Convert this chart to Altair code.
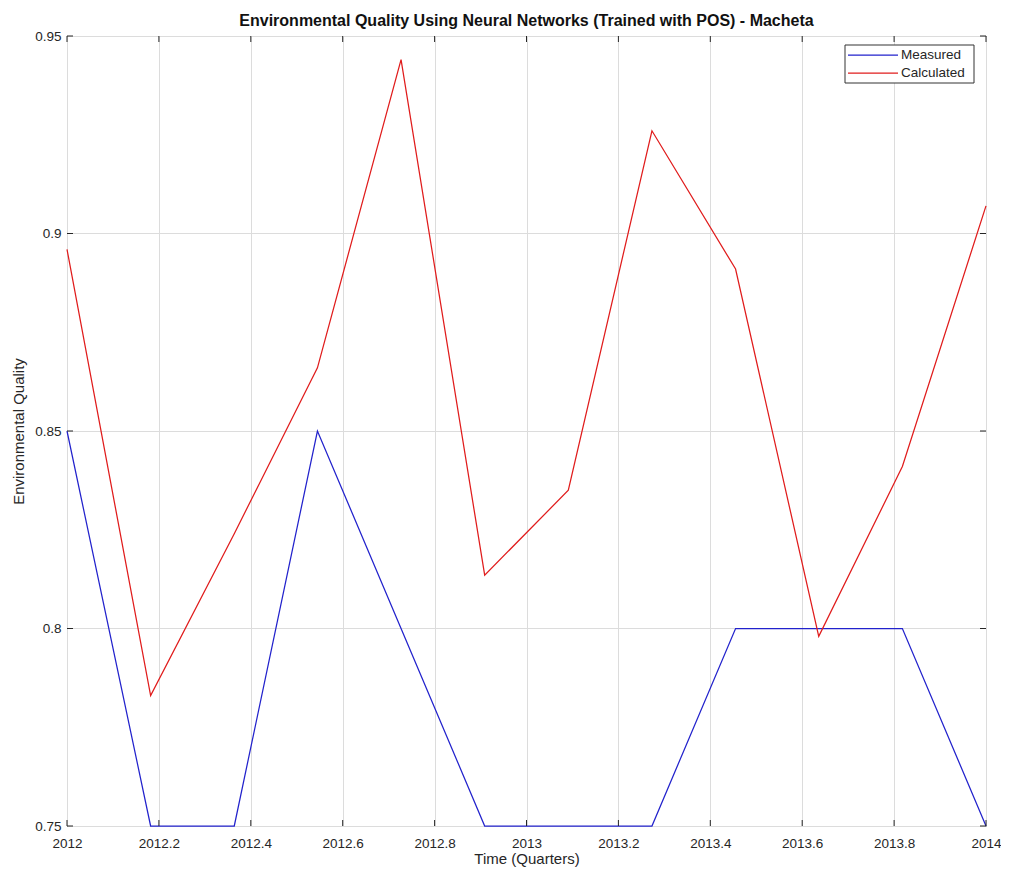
import altair as alt
import pandas as pd

quarters = [2012.000, 2012.182, 2012.364, 2012.545, 2012.727, 2012.909,
            2013.091, 2013.273, 2013.455, 2013.636, 2013.818, 2014.000]
measured = [0.85, 0.75, 0.75, 0.85, 0.80, 0.75, 0.75, 0.75, 0.80, 0.80, 0.80, 0.75]
calculated = [0.896, 0.783, 0.824, 0.866, 0.944, 0.8135, 0.835, 0.926, 0.891, 0.798, 0.841, 0.907]
series_names = ["Measured", "Calculated"]
series_colors = ["#2222cc", "#e01c1c"]
x_ticks = [2012, 2012.2, 2012.4, 2012.6, 2012.8, 2013, 2013.2, 2013.4, 2013.6, 2013.8, 2014]
y_ticks = [0.75, 0.8, 0.85, 0.9, 0.95]

W, H = 919, 790
FONT = "Liberation Sans"
TICK_FS = 13.5
TITLE_FS = 15

rows = []
for q, m in zip(quarters, measured):
    rows.append({"t": q, "v": m, "s": "Measured"})
for q, c in zip(quarters, calculated):
    rows.append({"t": q, "v": c, "s": "Calculated"})
df = pd.DataFrame(rows)
xt = pd.DataFrame({"t": x_ticks})
yt = pd.DataFrame({"v": y_ticks})
leg = pd.DataFrame({"s": series_names})

xs = alt.Scale(domain=[2012, 2014], nice=False, zero=False)
ys = alt.Scale(domain=[0.75, 0.95], nice=False, zero=False)
ss = alt.Scale(domain=series_names, range=series_colors)

lines = alt.Chart(df).mark_line(strokeWidth=1.25).encode(
    x=alt.X("t:Q", scale=xs, title="Time (Quarters)",
            axis=alt.Axis(values=x_ticks, format="~g", tickSize=0, domain=False,
                          labelPadding=10, titlePadding=2, grid=True,
                          gridColor="#dcdcdc", labelFontSize=TICK_FS, titleFontSize=TITLE_FS,
                          labelFont=FONT, titleFont=FONT, labelColor="#262626",
                          titleColor="#262626", titleFontWeight="normal",
                          labelFlush=False)),
    y=alt.Y("v:Q", scale=ys, title="Environmental Quality",
            axis=alt.Axis(values=y_ticks, format="~g", tickSize=0, domain=False,
                          labelPadding=6, grid=True, gridColor="#dcdcdc",
                          labelFontSize=TICK_FS, titleFontSize=TITLE_FS, labelFont=FONT,
                          titleFont=FONT, labelColor="#262626", titleColor="#262626",
                          titleFontWeight="normal", titleX=-49, titleY=H / 2,
                          titleAngle=-90, titleAlign="center", titleBaseline="middle",
                          labelFlush=False)),
    stroke=alt.Stroke("s:N", scale=ss, legend=None),
    order=alt.Order("t:Q"),
)

tick_color = "#262626"
bottom_ticks = alt.Chart(xt).mark_rule(color=tick_color, strokeWidth=1).encode(
    x=alt.X("t:Q", scale=xs), y=alt.value(H), y2=alt.value(H - 6))
top_ticks = alt.Chart(xt).mark_rule(color=tick_color, strokeWidth=1).encode(
    x=alt.X("t:Q", scale=xs), y=alt.value(0), y2=alt.value(6))
left_ticks = alt.Chart(yt).mark_rule(color=tick_color, strokeWidth=1).encode(
    y=alt.Y("v:Q", scale=ys), x=alt.value(0), x2=alt.value(6))
right_ticks = alt.Chart(yt).mark_rule(color=tick_color, strokeWidth=1).encode(
    y=alt.Y("v:Q", scale=ys), x=alt.value(W), x2=alt.value(W - 6))

# legend box (top-right, MATLAB style)
LX2 = W - 12
LX1 = LX2 - 129
LY1, LY2 = 9, 47
legend_box = alt.Chart(leg).transform_filter(alt.datum.s == series_names[0]).mark_rect(
    fill="white", stroke="#333333", strokeWidth=1).encode(
    x=alt.value(LX1), x2=alt.value(LX2), y=alt.value(LY1), y2=alt.value(LY2))

legend_layers = []
row_y = [LY1 + 10, LY1 + 28]
for name, ry in zip(series_names, row_y):
    sub = alt.Chart(leg).transform_filter(alt.datum.s == name)
    legend_layers.append(sub.mark_rule(strokeWidth=1.25).encode(
        x=alt.value(LX1 + 3), x2=alt.value(LX1 + 53), y=alt.value(ry),
        stroke=alt.Stroke("s:N", scale=ss, legend=None)))
    legend_layers.append(sub.mark_text(align="left", baseline="middle", fontSize=13.5,
                                       font=FONT, color="#262626").encode(
        x=alt.value(LX1 + 56), y=alt.value(ry), text="s:N"))

chart = alt.layer(lines, bottom_ticks, top_ticks, left_ticks, right_ticks,
                  legend_box, *legend_layers).properties(
    width=W, height=H,
    title=alt.TitleParams(
        "Environmental Quality Using Neural Networks (Trained with POS) - Macheta",
        fontSize=16, font=FONT, fontWeight="bold", color="#111111",
        anchor="middle", offset=0),
    autosize=alt.AutoSizeParams(type="none"),
    padding={"left": 59, "top": 28, "right": 15, "bottom": 43},
).configure_view(stroke="#262626", strokeWidth=1)

chart.save("out.html", embed_options={"renderer": "svg", "actions": False})
